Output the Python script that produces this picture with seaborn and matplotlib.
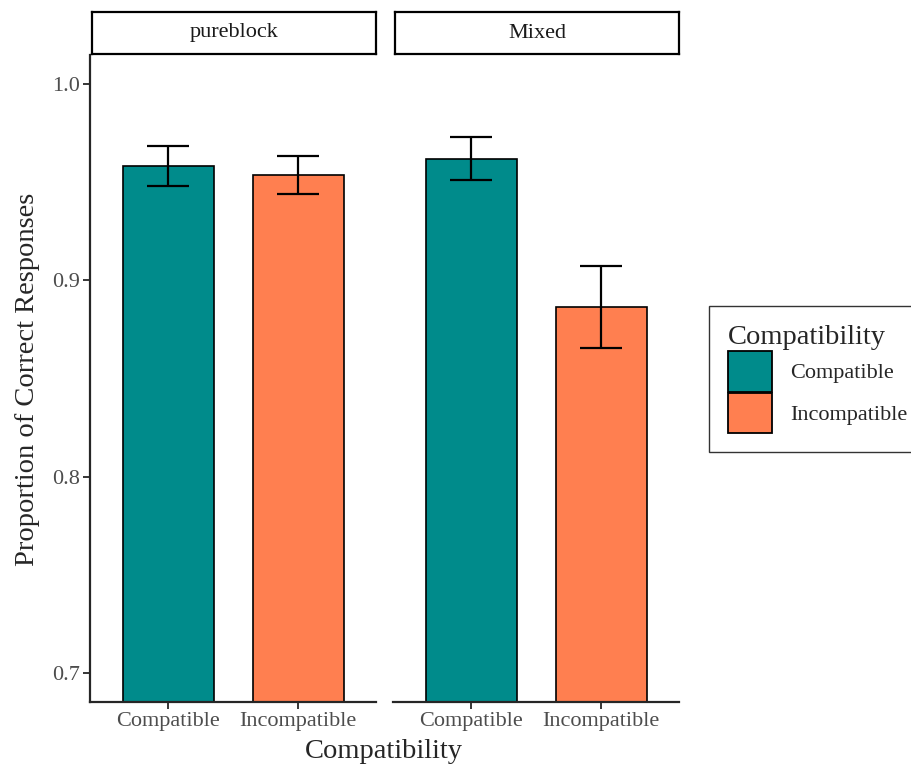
import pandas as pd
import numpy as np
import matplotlib.pyplot as plt
import matplotlib.patches as mpatches
import seaborn as sns

# values
blocks = ['pureblock', 'Mixed']
conditions = ['Compatible', 'Incompatible']
prop_pure = [0.9586, 0.9540]
prop_mixed = [0.9622, 0.8866]
err_pure = [0.0102, 0.0097]
err_mixed = [0.0108, 0.0210]
colors = {'Compatible': '#008B8B', 'Incompatible': '#FF7F50'}

df = pd.DataFrame({
    'Block': np.repeat(blocks, 2),
    'Compatibility': conditions * 2,
    'Prop': prop_pure + prop_mixed,
    'Err': err_pure + err_mixed,
})

sns.set_style('white')
plt.rcParams['font.family'] = ['Liberation Serif', 'DejaVu Serif']

W, H = 911, 772
fig = plt.figure(figsize=(W / 100, H / 100), dpi=100)

# panel positions in pixels (left, right)
panels = [(90, 376), (393, 679)]
top_px, bot_px = 55, 702
small = 16
big = 20.5

for i, (block, (l, r)) in enumerate(zip(blocks, panels)):
    ax = fig.add_axes([l / W, 1 - bot_px / H, (r - l) / W, (bot_px - top_px) / H])
    sub = df[df['Block'] == block]
    sns.barplot(data=sub, x='Compatibility', y='Prop', hue='Compatibility',
                palette=colors, order=conditions, width=0.7, errorbar=None,
                saturation=1, edgecolor='black', linewidth=1.2, legend=False,
                ax=ax)
    ax.errorbar(range(len(sub)), sub['Prop'], yerr=sub['Err'], fmt='none',
                ecolor='black', elinewidth=1.6, capsize=15, capthick=1.6)
    ax.set_ylim(0.685, 1.015)
    ax.set_xlim(-0.6, 1.6)
    ax.set_xlabel('')
    ax.set_ylabel('')
    for s in ['top', 'right']:
        ax.spines[s].set_visible(False)
    ax.spines['bottom'].set_linewidth(1.6)
    ax.spines['left'].set_linewidth(1.6)
    ax.tick_params(axis='x', length=5, width=1.3, labelsize=small,
                   labelcolor='#4D4D4D', bottom=True, pad=2)
    ax.set_yticks([0.7, 0.8, 0.9, 1.0])
    if i == 0:
        ax.tick_params(axis='y', length=5, width=1.3, labelsize=small,
                       labelcolor='#4D4D4D', left=True, pad=2)
    else:
        ax.spines['left'].set_visible(False)
        ax.tick_params(axis='y', left=False, labelleft=False)
    ax.set_facecolor('white')

    # facet strip
    sax = fig.add_axes([(l + 2) / W, 1 - 54 / H, (r - l - 2) / W, 42 / H])
    sax.set_xticks([])
    sax.set_yticks([])
    for s in sax.spines.values():
        s.set_visible(True)
        s.set_linewidth(1.6)
        s.set_color('black')
    sax.text(0.5, 0.5, block, ha='center', va='center', fontsize=small,
             color='#1A1A1A', transform=sax.transAxes)

fig.text(28 / W, 1 - 379 / H, 'Proportion of Correct Responses', rotation=90,
         ha='center', va='center', fontsize=big)
fig.text(384 / W, 1 - 752 / H, 'Compatibility', ha='center', va='center',
         fontsize=big)

handles = [mpatches.Patch(facecolor=colors[c], edgecolor='black', linewidth=1.3,
                          label=c) for c in conditions]
leg = fig.legend(handles=handles, title='Compatibility', loc='center left',
                 bbox_to_anchor=(709 / W, 1 - 379 / H), borderaxespad=0,
                 fontsize=small, title_fontsize=big, frameon=True,
                 fancybox=False, handlelength=2.0, handleheight=2.45,
                 labelspacing=0.05, handletextpad=0.8, borderpad=0.85,
                 alignment='left')
leg.get_frame().set_edgecolor('black')
leg.get_frame().set_linewidth(1.0)

fig.savefig('out.png', dpi=100)
